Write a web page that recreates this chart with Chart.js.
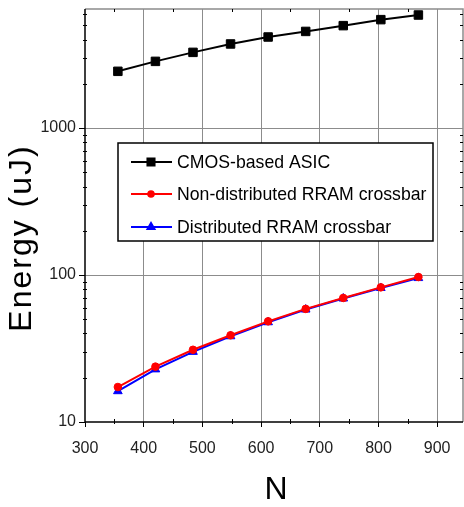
<!DOCTYPE html>
<html>
<head>
<meta charset="utf-8">
<script src="https://cdn.jsdelivr.net/npm/chart.js@4.4.1/dist/chart.umd.min.js"></script>
<style>
  html, body { margin: 0; padding: 0; background: #fff; }
  canvas { display: block; }
</style>
</head>
<body>
<canvas id="myChart" width="464" height="507"></canvas>
<script>
// datos
const nValues = [356, 420, 484, 548, 612, 676, 740, 804, 868];
const cmosEnergy = [2430, 2840, 3270, 3730, 4160, 4540, 4970, 5460, 5870];
const nonDistEnergy = [17.3, 23.8, 31.0, 38.9, 48.4, 58.8, 69.8, 82.4, 96.9];
const distEnergy = [16.2, 22.8, 30.0, 38.3, 47.7, 58.2, 69.2, 81.6, 95.3];
const seriesNames = ['CMOS-based ASIC', 'Non-distributed RRAM crossbar', 'Distributed RRAM crossbar'];
const xTickLabels = [300, 400, 500, 600, 700, 800, 900];
const yTickLabels = [10, 100, 1000];
const xTitle = 'N';
const yTitle = 'Energy (uJ)';

const tickFont = { family: '"Liberation Sans", Arial', size: 16 };

function toPoints(ys) {
    return nValues.map((n, i) => ({ x: n, y: ys[i] }));
}

// marco, marcas menores, leyenda y titulos dibujados sobre el canvas
const extras = {
    id: 'extras',
    afterDraw(chart) {
        const ctx = chart.ctx;
        const a = chart.chartArea;
        const xs = chart.scales.x;
        const ys = chart.scales.y;
        ctx.save();
        // borde superior y derecho gris, ejes negros
        ctx.strokeStyle = '#8c8c8c';
        ctx.lineWidth = 1.5;
        ctx.beginPath();
        ctx.moveTo(a.left, a.top);
        ctx.lineTo(a.right, a.top);
        ctx.lineTo(a.right, a.bottom);
        ctx.stroke();
        ctx.strokeStyle = '#000';
        ctx.beginPath();
        ctx.moveTo(a.left, a.top);
        ctx.lineTo(a.left, a.bottom);
        ctx.lineTo(a.right, a.bottom);
        ctx.stroke();

        // marcas menores
        ctx.lineWidth = 1;
        ctx.beginPath();
        xs.ticks.forEach(t => {
            if (t.value % 100 === 0) return;
            const px = Math.round(xs.getPixelForValue(t.value)) + 0.5;
            ctx.moveTo(px, a.bottom - 3); ctx.lineTo(px, a.bottom + 2);
            ctx.moveTo(px, a.top); ctx.lineTo(px, a.top + 3);
        });
        ys.ticks.forEach(t => {
            if (yTickLabels.includes(t.value)) return;
            const py = Math.round(ys.getPixelForValue(t.value)) + 0.5;
            ctx.moveTo(a.left - 2, py); ctx.lineTo(a.left + 2, py);
            ctx.moveTo(a.right - 3, py); ctx.lineTo(a.right, py);
        });
        ctx.stroke();

        // leyenda
        ctx.fillStyle = '#fff';
        ctx.fillRect(118, 143, 315, 98);
        ctx.strokeStyle = '#000';
        ctx.lineWidth = 1.5;
        ctx.strokeRect(118, 143, 315, 98);
        const rowY = [162, 194, 227];
        chart.data.datasets.forEach((ds, i) => {
            const y = rowY[i];
            ctx.strokeStyle = ds.borderColor;
            ctx.lineWidth = 2;
            ctx.beginPath();
            ctx.moveTo(131, y);
            ctx.lineTo(172, y);
            ctx.stroke();
            ctx.fillStyle = ds.backgroundColor;
            ctx.strokeStyle = ds.borderColor;
            Chart.helpers.drawPoint(ctx, {
                pointStyle: ds.pointStyle, radius: ds.pointRadius - 1, rotation: 0, borderWidth: 1
            }, 151, y);
            ctx.save();
            ctx.fillStyle = '#000';
            ctx.font = '19px "Liberation Sans", Arial';
            ctx.textAlign = 'left';
            ctx.textBaseline = 'middle';
            ctx.translate(177, y + 1);
            ctx.scale(0.93, 1);
            ctx.fillText(ds.label, 0, 0);
            ctx.restore();
        });

        // titulos de ejes
        ctx.fillStyle = '#000';
        ctx.font = '32px "Liberation Sans", Arial';
        ctx.textAlign = 'center';
        ctx.textBaseline = 'middle';
        ctx.fillText(xTitle, 276, 490);
        ctx.translate(22, 238);
        ctx.rotate(-Math.PI / 2);
        ctx.letterSpacing = '2px';
        ctx.fillText(yTitle, 0, 0);
        ctx.restore();
    }
};

const ctx = document.getElementById('myChart').getContext('2d');
const myChart = new Chart(ctx, {
    type: 'line',
    data: {
        datasets: [{
            label: seriesNames[0],
            data: toPoints(cmosEnergy),
            borderColor: '#000000',
            backgroundColor: '#000000',
            pointStyle: 'rect',
            pointRadius: 6
        }, {
            label: seriesNames[1],
            data: toPoints(nonDistEnergy),
            borderColor: '#ff0000',
            backgroundColor: '#ff0000',
            pointStyle: 'circle',
            pointRadius: 3.8
        }, {
            label: seriesNames[2],
            data: toPoints(distEnergy),
            borderColor: '#0000ff',
            backgroundColor: '#0000ff',
            pointStyle: 'triangle',
            pointRadius: 5
        }]
    },
    options: {
        responsive: false,
        animation: false,
        elements: { line: { borderWidth: 2, tension: 0 }, point: { borderWidth: 1 } },
        layout: { autoPadding: false, padding: { top: 9, right: 1, left: 0, bottom: 0 } },
        plugins: {
            legend: { display: false },
            tooltip: { enabled: false }
        },
        scales: {
            x: {
                type: 'linear',
                min: 300,
                max: 944,
                afterBuildTicks: scale => {
                    const t = [];
                    for (let v = 300; v <= 900; v += 50) t.push({ value: v });
                    scale.ticks = t;
                },
                afterFit: scale => {
                    scale.height = 85;
                    scale.paddingLeft = 0;
                    scale.paddingRight = 0;
                },
                grid: {
                    color: c => (c.tick && c.tick.value % 100 === 0 && c.tick.value > 300) ? '#8c8c8c' : 'rgba(0,0,0,0)',
                    tickColor: c => (c.tick && c.tick.value % 100 === 0) ? '#000' : 'rgba(0,0,0,0)',
                    tickLength: 5,
                    lineWidth: 1
                },
                border: { display: false },
                ticks: {
                    autoSkip: false,
                    maxRotation: 0,
                    padding: 12,
                    color: '#222',
                    font: tickFont,
                    callback: v => xTickLabels.includes(v) ? String(v) : ''
                }
            },
            y: {
                type: 'logarithmic',
                min: 10,
                max: 6450,
                afterBuildTicks: scale => {
                    const t = [];
                    for (let d = 10; d <= 1000; d *= 10) {
                        for (let k = 1; k <= 9; k++) {
                            if (d * k <= 6450) t.push({ value: d * k });
                        }
                    }
                    scale.ticks = t;
                },
                afterFit: scale => {
                    scale.width = 85;
                    scale.paddingTop = 0;
                    scale.paddingBottom = 0;
                },
                grid: {
                    color: c => (c.tick && (c.tick.value === 100 || c.tick.value === 1000)) ? '#8c8c8c' : 'rgba(0,0,0,0)',
                    tickColor: c => (c.tick && yTickLabels.includes(c.tick.value)) ? '#000' : 'rgba(0,0,0,0)',
                    tickLength: 6,
                    lineWidth: 1
                },
                border: { display: false },
                ticks: {
                    autoSkip: false,
                    padding: 3,
                    color: '#222',
                    font: tickFont,
                    callback: v => yTickLabels.includes(v) ? String(v) : ''
                }
            }
        }
    },
    plugins: [extras]
});
</script>
</body>
</html>
